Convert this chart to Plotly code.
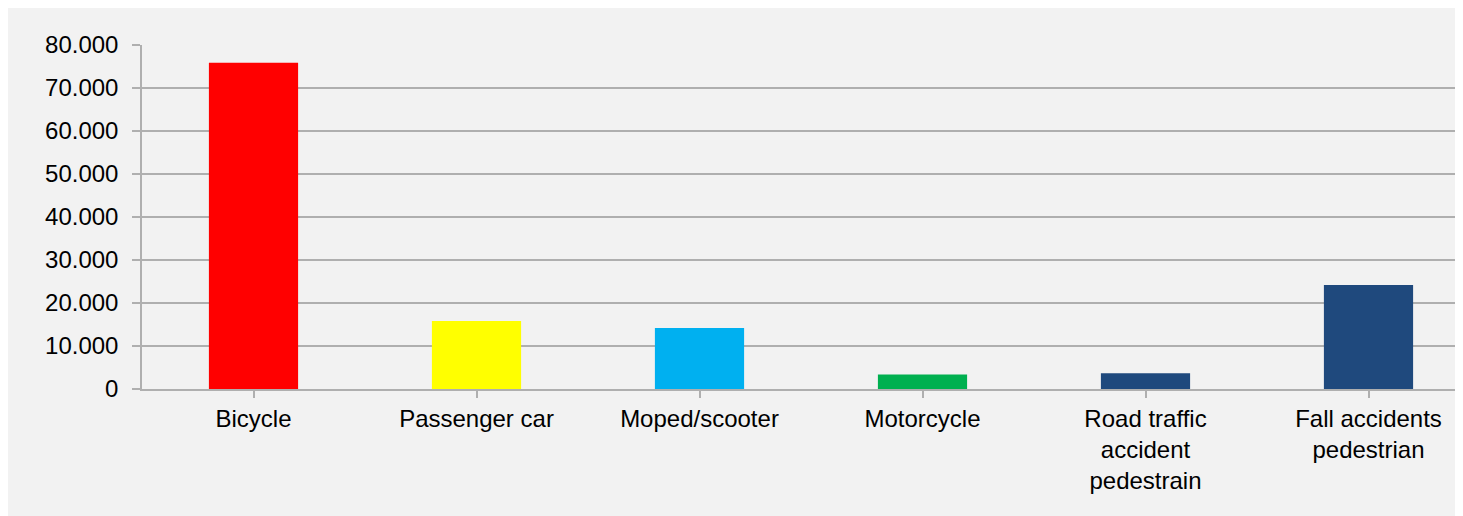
import plotly.graph_objects as go

categories = ["Bicycle", "Passenger car", "Moped/scooter", "Motorcycle",
              "Road traffic<br>accident<br>pedestrain", "Fall accidents<br>pedestrian"]
values = [75900, 15800, 14200, 3400, 3650, 24200]
bar_colors = ["#FF0000", "#FFFF00", "#00B0F0", "#00B050", "#1F497D", "#1F497D"]
y_tickvals = [0, 10000, 20000, 30000, 40000, 50000, 60000, 70000, 80000]
y_ticktext = ["0", "10.000", "20.000", "30.000", "40.000", "50.000", "60.000", "70.000", "80.000"]

# page body has an 8px margin, so the figure fills the rest of the window
W, H = 1455, 508
ML, MR, MT, MB = 134, 0, 37, 127
cat_px = 223.0
plot_w = W - ML - MR

grid_col = "#AFAFAF"
bg = "#F2F2F2"

fig = go.Figure(go.Bar(
    x=list(range(len(categories))),
    y=values,
    width=0.4,
    marker=dict(color=bar_colors, line=dict(width=0)),
    hoverinfo="skip",
))

fig.update_layout(
    width=W, height=H,
    margin=dict(l=ML, r=MR, t=MT, b=MB, pad=0),
    paper_bgcolor=bg, plot_bgcolor=bg,
    font=dict(family="Liberation Sans, Arial, sans-serif", size=24, color="#000000"),
    showlegend=False,
    xaxis=dict(
        tickmode="array",
        tickvals=list(range(len(categories))),
        ticktext=categories,
        range=[-0.5, -0.5 + plot_w / cat_px],
        tickson="boundaries",
        ticks="outside", ticklen=7, tickwidth=1.5, tickcolor=grid_col,
        showline=True, linecolor=grid_col, linewidth=1.5,
        showgrid=False, zeroline=False,
        tickangle=0,
    ),
    yaxis=dict(
        range=[0, 80000],
        tickmode="array",
        tickvals=y_tickvals,
        ticktext=y_ticktext,
        ticks="outside", ticklen=8, tickwidth=1.5, tickcolor=grid_col,
        showline=True, linecolor=grid_col, linewidth=1.5,
        showgrid=True, gridcolor=grid_col, gridwidth=1.5,
        zeroline=False,
        ticklabelstandoff=9,
    ),
)

fig.write_html("out.html")
